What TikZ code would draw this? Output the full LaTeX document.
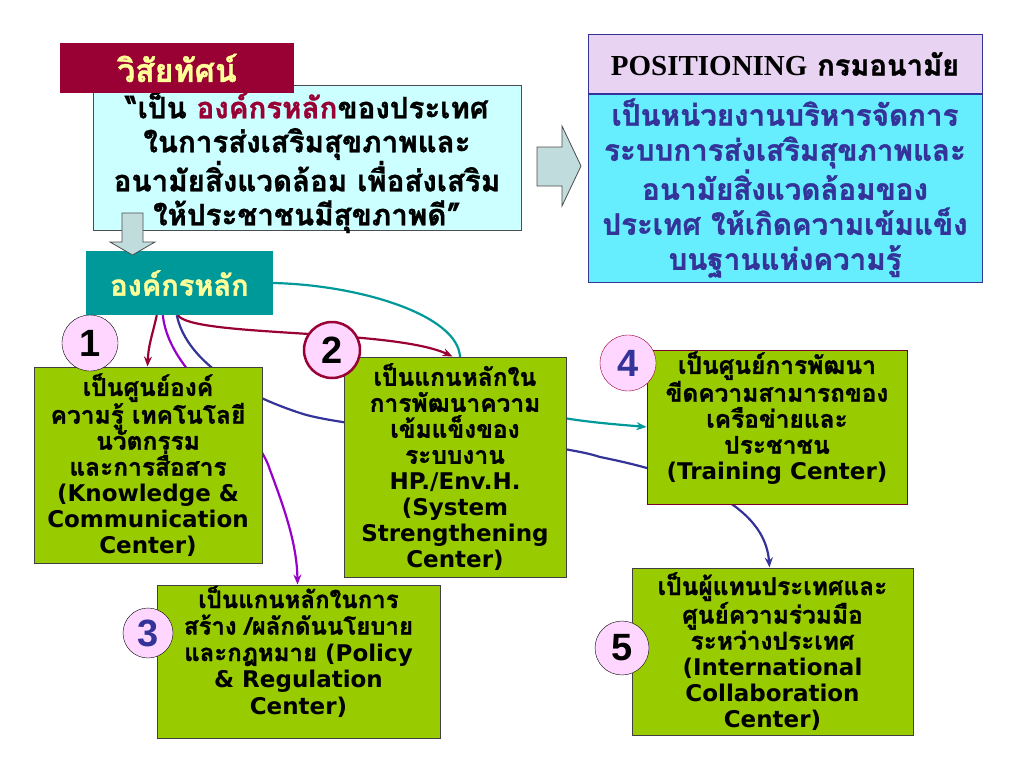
\documentclass[tikz,border=0pt]{standalone}
\usepackage{fontspec}
\usepackage{xcolor}
\setmainfont{Loma}[Script=Thai, BoldFeatures={FakeBold=1.2}]
\newfontfamily\timesfont{Liberation Serif}
\newfontfamily\arialfont{Liberation Sans}
\newfontfamily\latinfont{DejaVu Sans}
\newcommand{\eng}[1]{{\latinfont\fontsize{23}{26}\selectfont #1}}
\usetikzlibrary{positioning, arrows.meta, backgrounds}

\definecolor{darkred}{RGB}{153,0,51}
\definecolor{paleyellow}{RGB}{255,255,153}
\definecolor{palecyan}{RGB}{204,255,255}
\definecolor{orgteal}{RGB}{0,153,153}
\definecolor{poslav}{RGB}{232,212,242}
\definecolor{brightcyan}{RGB}{102,238,255}
\definecolor{navy}{RGB}{51,51,153}
\definecolor{leaf}{RGB}{153,204,0}
\definecolor{pinkfill}{RGB}{255,214,255}
\definecolor{arrowgray}{RGB}{192,220,220}
\definecolor{violetline}{RGB}{153,0,204}

\tikzset{
    greentext/.style={align=center, inner sep=0pt, font=\bfseries\fontsize{24.5}{26}\selectfont},
    greenbox/.style={greentext, draw=black!75, fill=leaf, line width=1pt},
    numcirc/.style={circle, draw, fill=pinkfill, minimum size=56pt, inner sep=0pt,
        font=\arialfont\bfseries\fontsize{38}{38}\selectfont},
    blockarrow/.style={draw=black!70, fill=arrowgray, line width=0.8pt},
    link/.style={line width=2.2pt, ->}
}

\begin{document}
\begin{tikzpicture}[x=1pt, y=-1pt, >={Stealth[length=10pt, width=8pt]}]
        \useasboundingbox (0,0) rectangle (1024,768);

        % vision
        \node[draw=black!70, fill=palecyan, line width=1pt, minimum width=428pt, minimum height=145pt,
            label={[align=center, font=\bfseries\fontsize{29.5}{34}\selectfont, yshift=-4pt]center:{“เป็น \textcolor{darkred}{องค์กรหลัก}ของประเทศ\\ในการส่งเสริมสุขภาพและ\\อนามัยสิ่งแวดล้อม เพื่อส่งเสริม\\ให้ประชาชนมีสุขภาพดี”}}]
            (vis) at (307,158) {};
        \node[fill=darkred, text=paleyellow, minimum width=234pt, minimum height=50pt,
            font=\bfseries\fontsize{32}{32}\selectfont] (vh) at (177,68) {วิสัยทัศน์};
        \node[fill=orgteal, text=paleyellow, minimum width=187pt, minimum height=64pt,
            font=\bfseries\fontsize{29}{29}\selectfont] (org) at (179.5,283) {องค์กรหลัก};
        \draw[blockarrow] (122,213) -- (143,213) -- (143,242) -- (155,242) -- (132.5,255)
            -- (110,242) -- (122,242) -- cycle;

        % positioning
        \node[draw=navy, fill=poslav, line width=1pt, minimum width=394pt, minimum height=58pt,
            font=\bfseries\fontsize{29}{29}\selectfont] (ph) at (785,64) {{\timesfont POSITIONING} กรมอนามัย};
        \node[draw=navy, fill=brightcyan, line width=1pt, minimum width=394pt, minimum height=188pt,
            below=0pt of ph, align=center, inner sep=0pt, text=navy,
            font=\bfseries\fontsize{29.5}{35}\selectfont] (pb)
            {เป็นหน่วยงานบริหารจัดการ\\ระบบการส่งเสริมสุขภาพและ\\อนามัยสิ่งแวดล้อมของ\\ประเทศ ให้เกิดความเข้มแข็ง\\บนฐานแห่งความรู้};
        \draw[blockarrow] (537,147) -- (562,147) -- (562,126) -- (581,166) -- (562,206)
            -- (562,186) -- (537,186) -- cycle;

        % centres
        \node[greenbox, minimum width=228pt, minimum height=196pt] (kc) at (148,465)
            {เป็นศูนย์องค์\\ความรู้ เทคโนโลยี\\นวัตกรรม\\และการสื่อสาร\\\eng{(Knowledge \&}\\\eng{Communication}\\\eng{Center)}};
        \node[greenbox, minimum width=222pt, minimum height=220pt] (ss) at (455,467)
            {เป็นแกนหลักใน\\การพัฒนาความ\\เข้มแข็งของ\\ระบบงาน\\\eng{HP./Env.H.}\\\eng{(System}\\\eng{Strengthening}\\\eng{Center)}};
        \node[greenbox, minimum width=283pt, minimum height=153pt,
            label={[greentext, font=\bfseries\fontsize{24}{26.5}\selectfont, yshift=10pt]center:{เป็นแกนหลักในการ\\สร้าง /ผลักดันนโยบาย\\และกฎหมาย \eng{(Policy}\\\eng{\& Regulation}\\\eng{Center)}}}]
            (pr) at (298.5,661.5) {};
        \node[greenbox, draw=darkred!80!black, minimum width=260pt, minimum height=154pt,
            label={[greentext, yshift=9pt]center:{เป็นศูนย์การพัฒนา\\ขีดความสามารถของ\\เครือข่ายและ\\ประชาชน\\\eng{(Training Center)}}}]
            (tc) at (777,427) {};
        \node[greenbox, minimum width=281pt, minimum height=167pt] (ic) at (772.5,651.5)
            {เป็นผู้แทนประเทศและ\\ศูนย์ความร่วมมือ\\ระหว่างประเทศ\\\eng{(International}\\\eng{Collaboration}\\\eng{Center)}};

        % numbers
        \node[numcirc] (n1) at (90,343) {1};
        \node[numcirc, draw=darkred, line width=2.5pt] (n2) at (332,350) {2};
        \node[numcirc, minimum size=50pt, text=navy] (n3) at (148,633) {3};
        \node[numcirc, draw=darkred, text=navy] (n4) at (628,363) {4};
        \node[numcirc, minimum size=54pt] (n5) at (622,648) {5};

        % links
        \begin{scope}[on background layer]
        \draw[link, darkred] ([xshift=71pt]org.south west) .. controls +(-5,22) and +(1,-22) .. ([xshift=114pt]kc.north west);
        \draw[link, violetline] ([xshift=77pt]org.south west) .. controls (170,380) and (255,420) .. (270,470)
            .. controls (285,510) and (297,545) .. ([xshift=141pt]pr.north west);
        \draw[link, navy] ([xshift=91pt]org.south west) .. controls (185,355) and (230,390) .. (300,413)
            .. controls (350,430) and (550,440) .. (600,457)
            .. controls (690,475) and (765,505) .. ([xshift=138pt]ic.north west);
        \draw[link, darkred] ([xshift=92pt]org.south west) .. controls +(15,22) and +(-60,-28) .. ([xshift=109pt]ss.north west);
        \draw[link, orgteal] (org.east) .. controls (360,285) and (458,315) .. (460,357)
            .. controls (465,415) and (590,422) .. (tc.west);
        \end{scope}
\end{tikzpicture}
\end{document}
